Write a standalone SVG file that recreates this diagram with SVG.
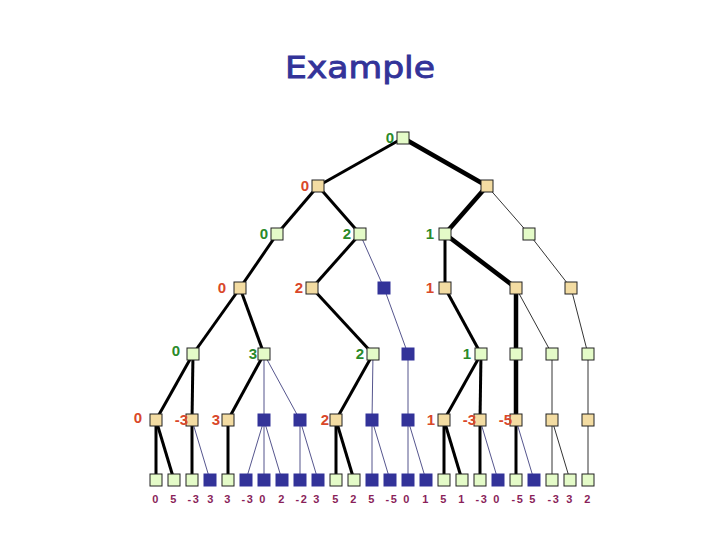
<svg xmlns="http://www.w3.org/2000/svg" width="720" height="540" viewBox="0 0 720 540">
<style>
.k{stroke:#000;stroke-width:3;fill:none}
.kk{stroke:#000;stroke-width:4.5;fill:none}
.t{stroke:#000;stroke-width:0.8;fill:none}
.tb{stroke:#2a2a70;stroke-width:0.8;fill:none}
.g{fill:#e4fbc8;stroke:#222;stroke-width:1}
.n{fill:#f3dca2;stroke:#222;stroke-width:1}
.b{fill:#333399;stroke:#333399;stroke-width:1}
.lg{font-family:"Liberation Sans",Arial,sans-serif;font-weight:bold;font-size:15px;fill:#2a8a2a;text-anchor:end}
.lo{font-family:"Liberation Sans",Arial,sans-serif;font-weight:bold;font-size:15px;fill:#d9482a;text-anchor:end}
.lf{font-family:"Liberation Sans",Arial,sans-serif;font-weight:bold;font-size:11px;fill:#8a1f5a;text-anchor:middle;letter-spacing:1.5px}
</style>
<rect width="720" height="540" fill="#fff"/>
<text x="360" y="78" font-family="'DejaVu Sans',sans-serif" font-size="31" fill="#333399" stroke="#333399" stroke-width="0.9" text-anchor="middle" textLength="150" lengthAdjust="spacingAndGlyphs">Example</text>
<g id="connectors">
<line class="k" x1="403" y1="138" x2="318" y2="186"/>
<line class="kk" x1="403" y1="138" x2="487" y2="186"/>
<line class="k" x1="318" y1="186" x2="277" y2="234"/>
<line class="k" x1="318" y1="186" x2="360" y2="234"/>
<line class="kk" x1="487" y1="186" x2="445" y2="234"/>
<line class="t" x1="487" y1="186" x2="529" y2="234"/>
<line class="k" x1="277" y1="234" x2="240" y2="288"/>
<line class="k" x1="360" y1="234" x2="312" y2="288"/>
<line class="tb" x1="360" y1="234" x2="384" y2="288"/>
<line class="k" x1="445" y1="234" x2="445" y2="288"/>
<line class="kk" x1="445" y1="234" x2="516" y2="288"/>
<line class="t" x1="529" y1="234" x2="571" y2="288"/>
<line class="k" x1="240" y1="288" x2="193" y2="354"/>
<line class="k" x1="240" y1="288" x2="264" y2="354"/>
<line class="k" x1="312" y1="288" x2="373" y2="354"/>
<line class="tb" x1="384" y1="288" x2="408" y2="354"/>
<line class="k" x1="445" y1="288" x2="481" y2="354"/>
<line class="kk" x1="516" y1="288" x2="516" y2="354"/>
<line class="t" x1="516" y1="288" x2="552" y2="354"/>
<line class="t" x1="571" y1="288" x2="588" y2="354"/>
<line class="k" x1="193" y1="354" x2="156" y2="420"/>
<line class="k" x1="193" y1="354" x2="192" y2="420"/>
<line class="k" x1="264" y1="354" x2="228" y2="420"/>
<line class="tb" x1="264" y1="354" x2="264" y2="420"/>
<line class="tb" x1="264" y1="354" x2="300" y2="420"/>
<line class="k" x1="373" y1="354" x2="336" y2="420"/>
<line class="tb" x1="373" y1="354" x2="372" y2="420"/>
<line class="tb" x1="408" y1="354" x2="408" y2="420"/>
<line class="k" x1="481" y1="354" x2="444" y2="420"/>
<line class="k" x1="481" y1="354" x2="480" y2="420"/>
<line class="kk" x1="516" y1="354" x2="516" y2="420"/>
<line class="t" x1="552" y1="354" x2="552" y2="420"/>
<line class="t" x1="588" y1="354" x2="588" y2="420"/>
<line class="k" x1="156" y1="420" x2="156" y2="480"/>
<line class="k" x1="156" y1="420" x2="174" y2="480"/>
<line class="k" x1="192" y1="420" x2="192" y2="480"/>
<line class="tb" x1="192" y1="420" x2="210" y2="480"/>
<line class="k" x1="228" y1="420" x2="228" y2="480"/>
<line class="tb" x1="264" y1="420" x2="246" y2="480"/>
<line class="tb" x1="264" y1="420" x2="264" y2="480"/>
<line class="tb" x1="264" y1="420" x2="282" y2="480"/>
<line class="tb" x1="300" y1="420" x2="300" y2="480"/>
<line class="tb" x1="300" y1="420" x2="318" y2="480"/>
<line class="k" x1="336" y1="420" x2="336" y2="480"/>
<line class="k" x1="336" y1="420" x2="354" y2="480"/>
<line class="tb" x1="372" y1="420" x2="372" y2="480"/>
<line class="tb" x1="372" y1="420" x2="390" y2="480"/>
<line class="tb" x1="408" y1="420" x2="408" y2="480"/>
<line class="tb" x1="408" y1="420" x2="426" y2="480"/>
<line class="k" x1="444" y1="420" x2="444" y2="480"/>
<line class="k" x1="444" y1="420" x2="462" y2="480"/>
<line class="k" x1="480" y1="420" x2="480" y2="480"/>
<line class="tb" x1="480" y1="420" x2="498" y2="480"/>
<line class="k" x1="516" y1="420" x2="516" y2="480"/>
<line class="tb" x1="516" y1="420" x2="534" y2="480"/>
<line class="t" x1="552" y1="420" x2="552" y2="480"/>
<line class="t" x1="552" y1="420" x2="570" y2="480"/>
<line class="t" x1="588" y1="420" x2="588" y2="480"/>
</g>
<g id="n0"><rect class="g" x="397" y="132" width="12" height="12"/><text class="lg" x="394" y="143">0</text></g>
<g id="n1a"><rect class="n" x="312" y="180" width="12" height="12"/><text class="lo" x="309" y="191">0</text></g>
<g id="n1b"><rect class="n" x="481" y="180" width="12" height="12"/></g>
<g id="n2a"><rect class="g" x="271" y="228" width="12" height="12"/><text class="lg" x="268" y="239">0</text></g>
<g id="n2b"><rect class="g" x="354" y="228" width="12" height="12"/><text class="lg" x="351" y="239">2</text></g>
<g id="n2c"><rect class="g" x="439" y="228" width="12" height="12"/><text class="lg" x="434" y="239">1</text></g>
<g id="n2d"><rect class="g" x="523" y="228" width="12" height="12"/></g>
<g id="n3a"><rect class="n" x="234" y="282" width="12" height="12"/><text class="lo" x="226" y="293">0</text></g>
<g id="n3b"><rect class="n" x="306" y="282" width="12" height="12"/><text class="lo" x="303" y="293">2</text></g>
<g id="n3c"><rect class="b" x="378" y="282" width="12" height="12"/></g>
<g id="n3d"><rect class="n" x="439" y="282" width="12" height="12"/><text class="lo" x="434" y="293">1</text></g>
<g id="n3e"><rect class="n" x="510" y="282" width="12" height="12"/></g>
<g id="n3f"><rect class="n" x="565" y="282" width="12" height="12"/></g>
<g id="n4a"><rect class="g" x="187" y="348" width="12" height="12"/><text class="lg" x="180" y="356">0</text></g>
<g id="n4b"><rect class="g" x="258" y="348" width="12" height="12"/><text class="lg" x="257" y="359">3</text></g>
<g id="n4c"><rect class="g" x="367" y="348" width="12" height="12"/><text class="lg" x="364" y="359">2</text></g>
<g id="n4d"><rect class="b" x="402" y="348" width="12" height="12"/></g>
<g id="n4e"><rect class="g" x="475" y="348" width="12" height="12"/><text class="lg" x="471" y="359">1</text></g>
<g id="n4f"><rect class="g" x="510" y="348" width="12" height="12"/></g>
<g id="n4g"><rect class="g" x="546" y="348" width="12" height="12"/></g>
<g id="n4h"><rect class="g" x="582" y="348" width="12" height="12"/></g>
<g id="n5a"><rect class="n" x="150" y="414" width="12" height="12"/><text class="lo" x="142" y="423">0</text></g>
<g id="n5b"><rect class="n" x="186" y="414" width="12" height="12"/><text class="lo" x="188" y="425">-3</text></g>
<g id="n5c"><rect class="n" x="222" y="414" width="12" height="12"/><text class="lo" x="220" y="425">3</text></g>
<g id="n5d"><rect class="b" x="258" y="414" width="12" height="12"/></g>
<g id="n5e"><rect class="b" x="294" y="414" width="12" height="12"/></g>
<g id="n5f"><rect class="n" x="330" y="414" width="12" height="12"/><text class="lo" x="329" y="425">2</text></g>
<g id="n5g"><rect class="b" x="366" y="414" width="12" height="12"/></g>
<g id="n5h"><rect class="b" x="402" y="414" width="12" height="12"/></g>
<g id="n5i"><rect class="n" x="438" y="414" width="12" height="12"/><text class="lo" x="435" y="425">1</text></g>
<g id="n5j"><rect class="n" x="474" y="414" width="12" height="12"/><text class="lo" x="476" y="425">-3</text></g>
<g id="n5k"><rect class="n" x="510" y="414" width="12" height="12"/><text class="lo" x="512" y="425">-5</text></g>
<g id="n5l"><rect class="n" x="546" y="414" width="12" height="12"/></g>
<g id="n5m"><rect class="n" x="582" y="414" width="12" height="12"/></g>
<g id="leaves">
<rect class="g" x="150" y="474" width="12" height="12"/><text class="lf" x="156" y="503">0</text>
<rect class="g" x="168" y="474" width="12" height="12"/><text class="lf" x="174" y="503">5</text>
<rect class="g" x="186" y="474" width="12" height="12"/><text class="lf" x="194" y="503">-3</text>
<rect class="b" x="204" y="474" width="12" height="12"/><text class="lf" x="211" y="503">3</text>
<rect class="g" x="222" y="474" width="12" height="12"/><text class="lf" x="228" y="503">3</text>
<rect class="b" x="240" y="474" width="12" height="12"/><text class="lf" x="248" y="503">-3</text>
<rect class="b" x="258" y="474" width="12" height="12"/><text class="lf" x="263" y="503">0</text>
<rect class="b" x="276" y="474" width="12" height="12"/><text class="lf" x="282" y="503">2</text>
<rect class="b" x="294" y="474" width="12" height="12"/><text class="lf" x="302" y="503">-2</text>
<rect class="b" x="312" y="474" width="12" height="12"/><text class="lf" x="317" y="503">3</text>
<rect class="g" x="330" y="474" width="12" height="12"/><text class="lf" x="336" y="503">5</text>
<rect class="g" x="348" y="474" width="12" height="12"/><text class="lf" x="354" y="503">2</text>
<rect class="b" x="366" y="474" width="12" height="12"/><text class="lf" x="372" y="503">5</text>
<rect class="b" x="384" y="474" width="12" height="12"/><text class="lf" x="392" y="503">-5</text>
<rect class="b" x="402" y="474" width="12" height="12"/><text class="lf" x="407" y="503">0</text>
<rect class="b" x="420" y="474" width="12" height="12"/><text class="lf" x="426" y="503">1</text>
<rect class="g" x="438" y="474" width="12" height="12"/><text class="lf" x="444" y="503">5</text>
<rect class="g" x="456" y="474" width="12" height="12"/><text class="lf" x="462" y="503">1</text>
<rect class="g" x="474" y="474" width="12" height="12"/><text class="lf" x="482" y="503">-3</text>
<rect class="b" x="492" y="474" width="12" height="12"/><text class="lf" x="497" y="503">0</text>
<rect class="g" x="510" y="474" width="12" height="12"/><text class="lf" x="518" y="503">-5</text>
<rect class="b" x="528" y="474" width="12" height="12"/><text class="lf" x="533" y="503">5</text>
<rect class="g" x="546" y="474" width="12" height="12"/><text class="lf" x="554" y="503">-3</text>
<rect class="g" x="564" y="474" width="12" height="12"/><text class="lf" x="570" y="503">3</text>
<rect class="g" x="582" y="474" width="12" height="12"/><text class="lf" x="588" y="503">2</text>
</g>
</svg>
